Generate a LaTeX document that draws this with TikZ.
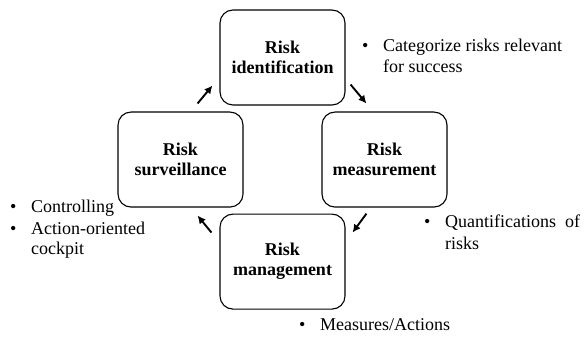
\documentclass[tikz,border=0pt]{standalone}
\usepackage{fontspec}
\setmainfont{Liberation Serif}
\usetikzlibrary{arrows.meta,calc,positioning}

\newcommand{\riskitem}[1]{\makebox[21pt][l]{\textbullet}\begin{tabular}[t]{@{}l@{}}#1\end{tabular}}

\begin{document}
\begin{tikzpicture}[x=1pt, y=1pt, node distance=108pt,
    box/.style={rectangle, draw, line width=1.1pt, rounded corners=13pt, minimum width=125pt, minimum height=95pt, align=center, font=\fontsize{18pt}{20pt}\selectfont\bfseries},
    note/.style={anchor=base west, inner sep=0pt, font=\fontsize{18pt}{21pt}\selectfont},
    arr/.style={-{Latex[length=8pt,width=8pt]}, line width=1.9pt}]
    \useasboundingbox (0,0) rectangle (585,337);
    \node[box] (ident) at (282.5,279.5) {Risk\\identification};
    \node[box, below=of ident] (mgmt) {Risk\\management};
    \node[box] (surv) at ($(ident)!0.5!(mgmt)+(-102,0)$) {Risk\\surveillance};
    \node[box] (meas) at ($(ident)!0.5!(mgmt)+(102,0)$) {Risk\\measurement};

    \node[note] (catnote) at (362,285) {\riskitem{Categorize risks relevant\\for success}};
    \node[note] (ctrlnote) at (10,124) {\begin{tabular}[t]{@{}l@{}}\riskitem{Controlling}\\\riskitem{Action-oriented\\cockpit}\end{tabular}};
    \node[note] (quantnote) at (424,109) {\riskitem{Quantifications~~of\\risks}};
    \node[note] (measnote) at (299,7) {\riskitem{Measures/Actions}};

    \draw[arr] ($(ident.south east)+(5,21)$) -- ($(meas.north west)+(45,8)$);
    \draw[arr] ($(meas.south west)+(45,-6)$) -- ($(mgmt.north east)+(7,-19)$);
    \draw[arr] ($(mgmt.north west)+(-8,-19)$) -- ($(surv.south east)+(-46,-8)$);
    \draw[arr] ($(surv.north east)+(-46,8)$) -- ($(ident.south west)+(-7,20)$);
\end{tikzpicture}
\end{document}
